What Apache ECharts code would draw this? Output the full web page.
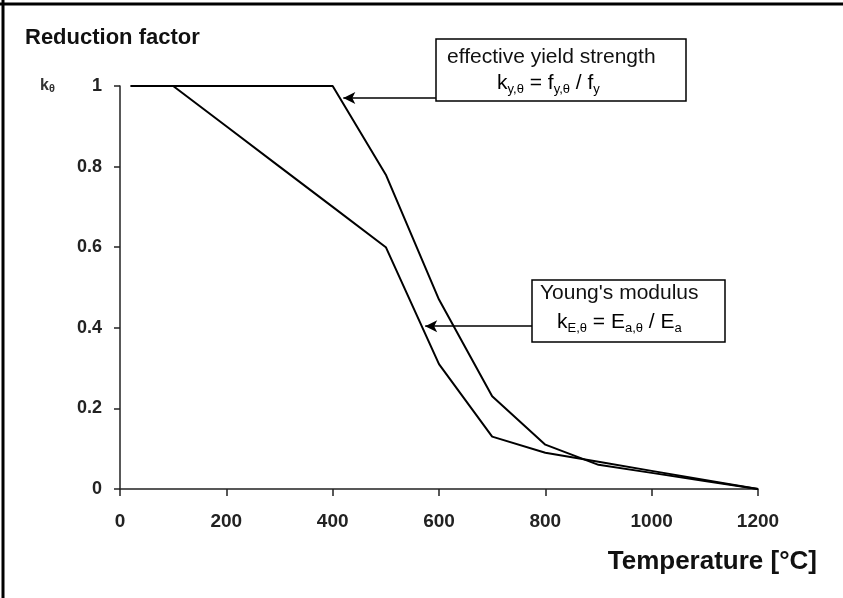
<!DOCTYPE html>
<html>
<head>
<meta charset="utf-8">
<title>Reduction factor</title>
<script src="https://cdn.jsdelivr.net/npm/echarts@6.0.0/dist/echarts.min.js"></script>
<style>
	html, body {
	margin: 0;
	padding: 0;
	background: #fff;
	}
	#main {
	width: 843px;
	height: 598px;
	}
</style>
</head>
<body>
<div id="main"></div>
<script>
// temperatures in °C
var temps = [20, 100, 200, 300, 400, 500, 600, 700, 800, 900, 1000, 1100, 1200];
// effective yield strength k_y,θ
var kYield = [1, 1, 1, 1, 1, 0.78, 0.47, 0.23, 0.11, 0.06, 0.04, 0.02, 0];
// Young's modulus k_E,θ
var kModulus = [1, 1, 0.9, 0.8, 0.7, 0.6, 0.31, 0.13, 0.09, 0.0675, 0.045, 0.0225, 0];
var xTicks = [0, 200, 400, 600, 800, 1000, 1200];
var yTicks = [0, 0.2, 0.4, 0.6, 0.8, 1];
// arrows from the note boxes to the curves, in data units
var arrowYield = [[594, 0.97], [420, 0.97]];
var arrowModulus = [[775, 0.404], [574, 0.404]];

var fontName = '"Liberation Sans", Arial, sans-serif';

function pairs(xs, ys){
	var out = [];
	for(var i=0;i<xs.length;i++){
		out.push([xs[i], ys[i]]);
	}
	return out;
}

var subStyle = {
	fontSize: 13,
	fontFamily: fontName,
	color: '#111',
	verticalAlign: 'bottom',
	lineHeight: 26
};
var mainStyle = {
	fontSize: 21,
	fontFamily: fontName,
	color: '#111',
	lineHeight: 26
};

var myChart = echarts.init(document.getElementById('main'));
var option = {
	backgroundColor: '#fff',
	animation: false,
	title: {
		text: 'Reduction factor',
		left: 25,
		top: 27,
		padding: 0,
		textStyle: {
			fontSize: 22,
			fontWeight: 'bold',
			fontFamily: fontName,
			color: '#111'
		}
	},
	grid: {
		left: 120,
		right: 85,
		top: 86,
		bottom: 109
	},
	xAxis: {
		type: 'value',
		min: xTicks[0],
		max: xTicks[xTicks.length-1],
		interval: 200,
		splitLine: {show: false},
		axisLine: {lineStyle: {color: '#222', width: 1.5}},
		axisTick: {show: true, length: 7, lineStyle: {color: '#222', width: 1.5}},
		axisLabel: {
			margin: 23,
			fontSize: 19,
			fontWeight: 'bold',
			fontFamily: fontName,
			color: '#222',
			formatter: function (v) { return String(v); }
		}
	},
	yAxis: {
		type: 'value',
		min: yTicks[0],
		max: yTicks[yTicks.length-1],
		interval: 0.2,
		splitLine: {show: false},
		axisLine: {show: true, lineStyle: {color: '#222', width: 1.5}},
		axisTick: {show: true, length: 6, lineStyle: {color: '#222', width: 1.5}},
		axisLabel: {
			margin: 18,
			fontSize: 18,
			fontWeight: 'bold',
			fontFamily: fontName,
			color: '#222'
		}
	},
	series: [
	{
		name: 'effective yield strength',
		type: 'line',
		data: pairs(temps, kYield),
		showSymbol: false,
		lineStyle: {color: '#000', width: 2},
		markLine: {
			silent: true,
			symbol: ['none', 'arrow'],
			symbolSize: [9, 12],
			label: {show: false},
			lineStyle: {color: '#000', width: 1.5, type: 'solid'},
			data: [
			[{coord: arrowYield[0]}, {coord: arrowYield[1]}]
			]
		}
	},
	{
		name: "Young's modulus",
		type: 'line',
		data: pairs(temps, kModulus),
		showSymbol: false,
		lineStyle: {color: '#000', width: 2},
		markLine: {
			silent: true,
			symbol: ['none', 'arrow'],
			symbolSize: [9, 12],
			label: {show: false},
			lineStyle: {color: '#000', width: 1.5, type: 'solid'},
			data: [
			[{coord: arrowModulus[0]}, {coord: arrowModulus[1]}]
			]
		}
	}
	],
	graphic: [
	// frame (top and left edges)
	{type: 'line', shape: {x1: 0, y1: 4, x2: 843, y2: 4}, style: {stroke: '#000', lineWidth: 3}},
	{type: 'line', shape: {x1: 3, y1: 0, x2: 3, y2: 598}, style: {stroke: '#000', lineWidth: 3}},
	// k_θ next to the y axis
	{
		type: 'text',
		x: 40,
		y: 72,
		style: {
			text: '{k|k}{s|θ}',
			rich: {
				k: {font: 'bold 16px ' + fontName, fill: '#333', verticalAlign: 'bottom', lineHeight: 22},
				s: {font: 'bold 11px ' + fontName, fill: '#333', verticalAlign: 'bottom', lineHeight: 22}
			}
		}
	},
	// box for the yield strength
	{
		type: 'rect',
		shape: {x: 436, y: 39, width: 250, height: 62},
		style: {fill: '#fff', stroke: '#000', lineWidth: 1.5},
		z: 10
	},
	{
		type: 'text',
		x: 447,
		y: 57,
		z: 11,
		style: {
			text: 'effective yield strength',
			font: '21px ' + fontName,
			fill: '#111',
			verticalAlign: 'middle'
		}
	},
	{
		type: 'text',
		x: 497,
		y: 70,
		z: 11,
		style: {
			text: '{m|k}{s|y,θ}{m| = f}{s|y,θ}{m| / f}{s|y}',
			rich: {m: mainStyle, s: subStyle}
		}
	},
	// box for Young's modulus
	{
		type: 'rect',
		shape: {x: 532, y: 280, width: 193, height: 62},
		style: {fill: '#fff', stroke: '#000', lineWidth: 1.5},
		z: 10
	},
	{
		type: 'text',
		x: 540,
		y: 293,
		z: 11,
		style: {
			text: "Young's modulus",
			font: '21px ' + fontName,
			fill: '#111',
			verticalAlign: 'middle'
		}
	},
	{
		type: 'text',
		x: 557,
		y: 309,
		z: 11,
		style: {
			text: '{m|k}{s|E,θ}{m| = E}{s|a,θ}{m| / E}{s|a}',
			rich: {m: mainStyle, s: subStyle}
		}
	},
	// x axis name
	{
		type: 'text',
		x: 817,
		y: 562,
		style: {
			text: 'Temperature [°C]',
			font: 'bold 26px ' + fontName,
			fill: '#111',
			align: 'right',
			verticalAlign: 'middle'
		}
	}
	]
};
myChart.setOption(option);
</script>
</body>
</html>
